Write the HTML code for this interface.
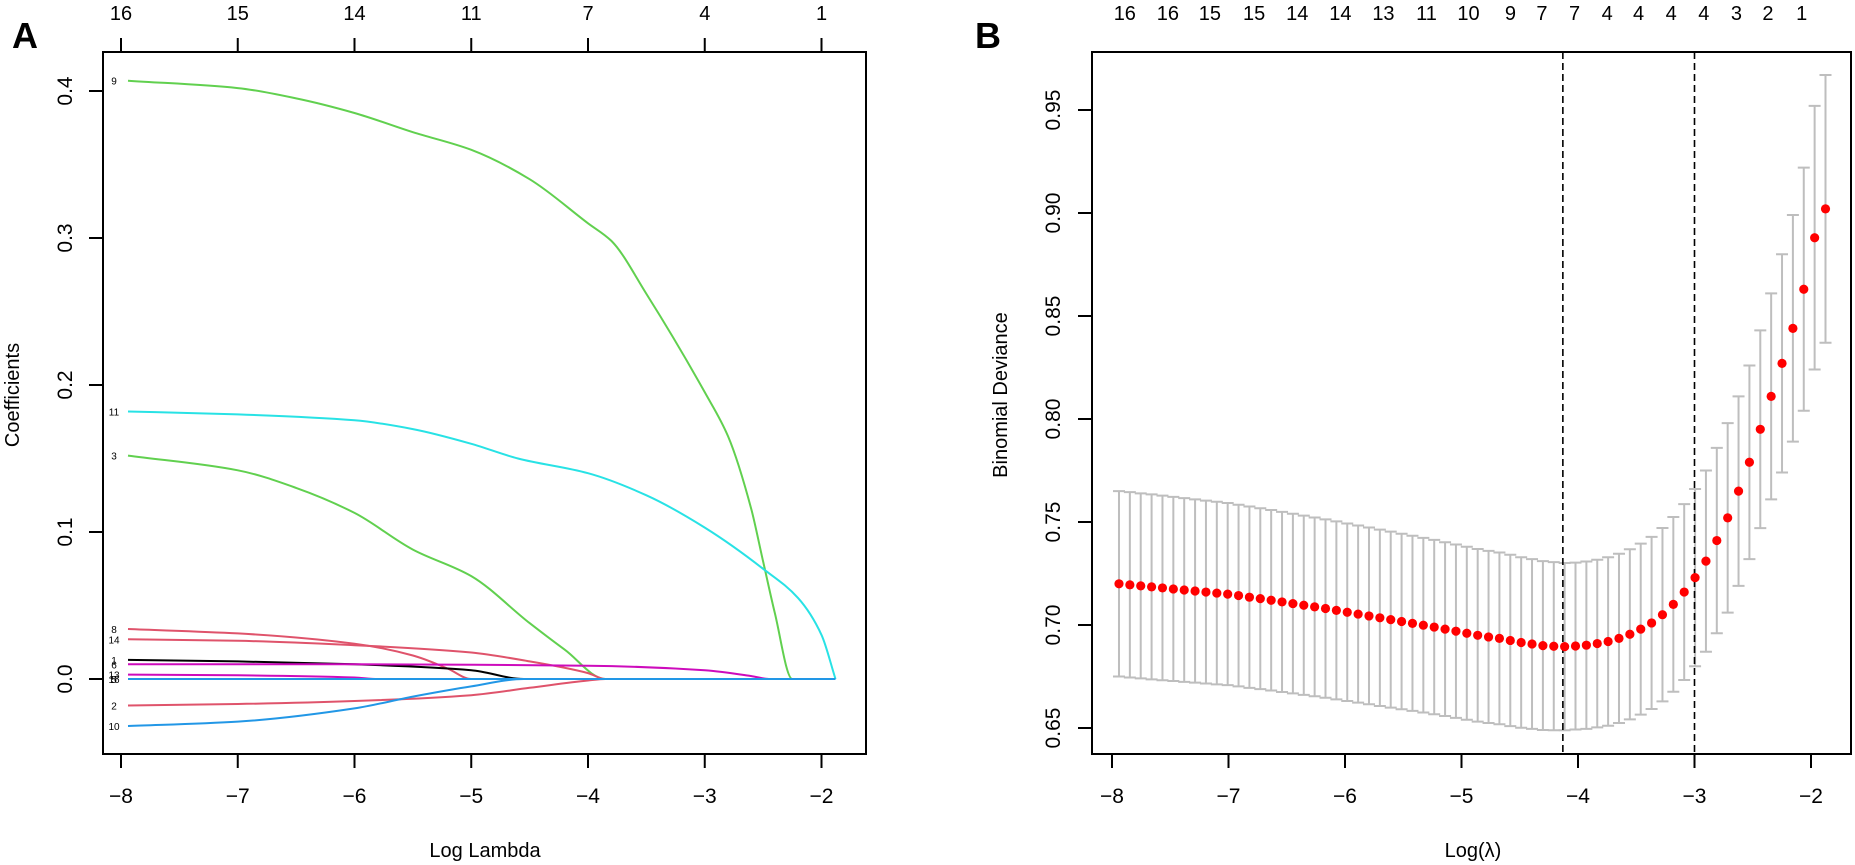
<!DOCTYPE html>
<html><head><meta charset="utf-8"><style>
html,body{margin:0;padding:0;background:#fff;}
svg{display:block;font-family:"Liberation Sans",sans-serif;}
</style></head><body>
<svg id="fig" width="1855" height="865" viewBox="0 0 1855 865" xmlns="http://www.w3.org/2000/svg">
<g id="pA"></g>
<g id="pB"></g>
</svg>
<script>
// ---------- Panel A data ----------
const aXTicks = [-8,-7,-6,-5,-4,-3,-2];
const aTopLabels = ["16","15","14","11","7","4","1"];
const aYTicks = [0.0,0.1,0.2,0.3,0.4];
const aYTickLabels = ["0.0","0.1","0.2","0.3","0.4"];
const path9  = [[-7.94,0.407],[-7,0.402],[-6.5,0.395],[-6,0.385],[-5.5,0.372],[-5,0.360],[-4.5,0.340],[-4,0.310],[-3.8,0.298],[-3.5,0.262],[-3,0.195],[-2.8,0.165],[-2.6,0.115],[-2.5,0.08],[-2.4,0.045],[-2.25,0],[-1.88,0]];
const path11 = [[-7.94,0.182],[-7,0.180],[-6,0.176],[-5.5,0.170],[-5,0.160],[-4.6,0.150],[-4,0.140],[-3.5,0.125],[-3,0.103],[-2.5,0.075],[-2.2,0.055],[-2,0.030],[-1.88,0]];
const path3  = [[-7.94,0.152],[-7,0.142],[-6.5,0.130],[-6,0.113],[-5.5,0.088],[-5,0.070],[-4.5,0.038],[-4.2,0.020],[-3.85,0],[-1.88,0]];
const path8  = [[-7.94,0.034],[-7,0.031],[-6,0.024],[-5.5,0.016],[-5.2,0.007],[-5,0],[-1.88,0]];
const path14 = [[-7.94,0.027],[-7,0.026],[-6,0.023],[-5,0.018],[-4.5,0.012],[-4,0.004],[-3.85,0],[-1.88,0]];
const path1  = [[-7.94,0.013],[-7,0.012],[-6,0.010],[-5,0.006],[-4.55,0],[-1.88,0]];
const path6  = [[-7.94,0.010],[-6,0.010],[-4,0.009],[-3,0.006],[-2.6,0.002],[-2.45,0],[-1.88,0]];
const path13 = [[-7.94,0.003],[-7,0.0025],[-6,0.001],[-5.8,0],[-1.88,0]];
const path2  = [[-7.94,-0.018],[-7,-0.017],[-6,-0.015],[-5,-0.011],[-4.5,-0.006],[-4,-0.001],[-3.85,0],[-1.88,0]];
const path10 = [[-7.94,-0.032],[-7,-0.029],[-6,-0.020],[-5.5,-0.012],[-5,-0.005],[-4.55,0],[-1.88,0]];
const pathZero = [[-7.94,0],[-1.88,0]];
const aSeries = [
 {lab:"9",col:"#61D04F",d:path9},{lab:"11",col:"#28E2E5",d:path11},{lab:"3",col:"#61D04F",d:path3},
 {lab:"8",col:"#DF536B",d:path8},{lab:"14",col:"#DF536B",d:path14},{lab:"1",col:"#000000",d:path1},
 {lab:"6",col:"#CD0BBC",d:path6},{lab:"13",col:"#CD0BBC",d:path13},{lab:"2",col:"#DF536B",d:path2},
 {lab:"10",col:"#2297E6",d:path10},{lab:"16",col:"#9E9E9E",d:pathZero},{lab:"5",col:"#2297E6",d:pathZero}
];

// ---------- Panel B data ----------
const bXTicks = [-8,-7,-6,-5,-4,-3,-2];
const bYTicks = [0.65,0.70,0.75,0.80,0.85,0.90,0.95];
const bYTickLabels = ["0.65","0.70","0.75","0.80","0.85","0.90","0.95"];
const bTopLabels = ["16","16","15","15","14","14","13","11","10","9","7","7","4","4","4","4","3","2","1"];
const bTopPos = [-7.89,-7.52,-7.16,-6.78,-6.41,-6.04,-5.67,-5.30,-4.94,-4.58,-4.31,-4.03,-3.75,-3.48,-3.20,-2.92,-2.64,-2.37,-2.08];
const lamStart = -7.94, lamStep = 0.0933;
const cvMean = [0.720,0.7195,0.719,0.7185,0.718,0.7175,0.717,0.7165,0.716,0.7155,0.715,0.7143,0.7135,0.7128,0.712,0.7112,0.7104,0.7096,0.7088,0.708,0.7071,0.7062,0.7053,0.7044,0.7035,0.7026,0.7017,0.7008,0.6999,0.699,0.698,0.697,0.696,0.695,0.6942,0.6935,0.6925,0.6915,0.6908,0.690,0.6897,0.6895,
 0.6898,0.6902,0.691,0.692,0.6935,0.6955,0.698,0.701,0.705,0.710,0.716,0.723,
 0.731,0.741,0.752,0.765,0.779,0.795,0.811,0.827,0.844,0.863,0.888,0.902];
const cvSE = [0.0450,0.0450,0.0449,0.0449,0.0448,0.0447,0.0446,0.0445,0.0444,0.0443,0.0442,0.0441,0.0440,0.0439,0.0438,0.0437,0.0436,0.0435,0.0434,0.0433,0.0432,0.0431,0.0430,0.0429,0.0428,0.0427,0.0426,0.0425,0.0424,0.0423,0.0422,0.0421,0.0420,0.0419,0.0418,0.0417,0.0416,0.0414,0.0412,0.0410,0.0408,0.0406,
 0.0405,0.0406,0.0407,0.0409,0.0411,0.0413,0.0415,0.0418,0.0421,0.0424,0.0427,0.0430,
 0.044,0.045,0.046,0.046,0.047,0.048,0.050,0.053,0.055,0.059,0.064,0.065];
const lambdaMin = -4.13, lambda1se = -3.0;

// ---------- helpers ----------
const NS="http://www.w3.org/2000/svg";
function mk(parent,tag,attrs,text){const e=document.createElementNS(NS,tag);for(const k in attrs)e.setAttribute(k,attrs[k]);if(text!==undefined)e.textContent=text;parent.appendChild(e);return e;}
// monotone cubic (Fritsch-Carlson) - no overshoot
function smoothPath(pts){
 const n=pts.length;
 if(n<3){return "M"+pts.map(p=>p[0].toFixed(1)+","+p[1].toFixed(1)).join(" L");}
 const dx=[],sl=[];
 for(let i=0;i<n-1;i++){dx.push(pts[i+1][0]-pts[i][0]);sl.push((pts[i+1][1]-pts[i][1])/dx[i]);}
 const m=[sl[0]];
 for(let i=1;i<n-1;i++){
  if(sl[i-1]*sl[i]<=0)m.push(0);
  else{const w1=2*dx[i]+dx[i-1],w2=dx[i]+2*dx[i-1];m.push((w1+w2)/(w1/sl[i-1]+w2/sl[i]));}
 }
 m.push(sl[n-2]);
 let d="M"+pts[0][0].toFixed(1)+","+pts[0][1].toFixed(1);
 for(let i=0;i<n-1;i++){
  const h=dx[i]/3;
  d+=" C"+(pts[i][0]+h).toFixed(1)+","+(pts[i][1]+m[i]*h).toFixed(1)+" "+(pts[i+1][0]-h).toFixed(1)+","+(pts[i+1][1]-m[i+1]*h).toFixed(1)+" "+pts[i+1][0].toFixed(1)+","+pts[i+1][1].toFixed(1);
 }
 return d;
}

// ---------- Panel A ----------
(function(){
 const g=document.getElementById('pA');
 const L=103,R=866,T=52,B=754;
 const ax=v=>121+(v+8)*116.75;
 const ay=v=>679-v*1470;
 const box=mk(g,'rect',{x:L,y:T,width:R-L,height:B-T,fill:'none',stroke:'#000','stroke-width':2});
 
 
 aXTicks.forEach((t,i)=>{
  const x=ax(t);
  const tk=mk(g,'line',{x1:x,y1:B,x2:x,y2:B+14,stroke:'#000','stroke-width':2});
  
  
  const lb=mk(g,'text',{x:x,y:803,'font-size':21,'text-anchor':'middle'},(t<0?"\u2212":"")+Math.abs(t));
  
  
  const tt=mk(g,'line',{x1:x,y1:T,x2:x,y2:T-14,stroke:'#000','stroke-width':2});
  
  
  const tl=mk(g,'text',{x:x,y:20,'font-size':20,'text-anchor':'middle'},aTopLabels[i]);
  
  
 });
 aYTicks.forEach((t,i)=>{
  const y=ay(t);
  const tk=mk(g,'line',{x1:L,y1:y,x2:L-14,y2:y,stroke:'#000','stroke-width':2});
  
  
  const lb=mk(g,'text',{x:72,y:y,'font-size':21,'text-anchor':'middle',transform:`rotate(-90 72 ${y})`},aYTickLabels[i]);
  
  
 });
 const xt=mk(g,'text',{x:485,y:857,'font-size':20,'text-anchor':'middle'},'Log Lambda');
 
 
 const yt=mk(g,'text',{x:19,y:395,'font-size':20,'text-anchor':'middle',transform:'rotate(-90 19 395)'},'Coefficients');
 
 
 const pl=mk(g,'text',{x:12,y:48,'font-size':36,'font-weight':'bold'},'A');
 
 
 aSeries.forEach(s=>{
  const pts=s.d.map(p=>[ax(p[0]),ay(p[1])]);
  const p=mk(g,'path',{d:smoothPath(pts),fill:'none',stroke:s.col,'stroke-width':2});
  
  
  const lb=mk(g,'text',{x:114,y:ay(s.d[0][1])+4,'font-size':10,'text-anchor':'middle'},s.lab);
  
  
 });
})();

// ---------- Panel B ----------
(function(){
 const g=document.getElementById('pB');
 const L=1092,R=1851,T=52,B=754;
 const bx=v=>1112+(v+8)*116.5;
 const by=v=>728-(v-0.65)*2060;
 const box=mk(g,'rect',{x:L,y:T,width:R-L,height:B-T,fill:'none',stroke:'#000','stroke-width':2});
 
 
 bXTicks.forEach(t=>{
  const x=bx(t);
  const tk=mk(g,'line',{x1:x,y1:B,x2:x,y2:B+14,stroke:'#000','stroke-width':2});
  
  
  const lb=mk(g,'text',{x:x,y:803,'font-size':21,'text-anchor':'middle'},(t<0?"\u2212":"")+Math.abs(t));
  
  
 });
 bYTicks.forEach((t,i)=>{
  const y=by(t);
  const tk=mk(g,'line',{x1:L,y1:y,x2:L-14,y2:y,stroke:'#000','stroke-width':2});
  
  
  const lb=mk(g,'text',{x:1060,y:y,'font-size':21,'text-anchor':'middle',transform:`rotate(-90 1060 ${y})`},bYTickLabels[i]);
  
  
 });
 bTopLabels.forEach((s,i)=>{
  const tl=mk(g,'text',{x:bx(bTopPos[i]),y:20,'font-size':20,'text-anchor':'middle'},s);
  
  
 });
 const xt=mk(g,'text',{x:1473,y:857,'font-size':20,'text-anchor':'middle'},'Log(\u03BB)');
 
 
 const yt=mk(g,'text',{x:1007,y:395,'font-size':20,'text-anchor':'middle',transform:'rotate(-90 1007 395)'},'Binomial Deviance');
 
 
 const pl=mk(g,'text',{x:975,y:48,'font-size':36,'font-weight':'bold'},'B');
 
 
 cvMean.forEach((m,i)=>{
  const x=bx(lamStart+i*lamStep), yu=by(m+cvSE[i]), yl=by(m-cvSE[i]);
  const e=mk(g,'path',{d:`M${x},${yu}V${yl}M${x-6},${yu}H${x+6}M${x-6},${yl}H${x+6}`,stroke:'#BEBEBE','stroke-width':2,fill:'none'});
  
  
 });
 [lambdaMin,lambda1se].forEach((v,i)=>{
  const x=bx(v);
  const l=mk(g,'line',{x1:x,y1:T,x2:x,y2:B,stroke:'#000','stroke-width':1.6,'stroke-dasharray':'7,4'});
  
  
 });
 cvMean.forEach((m,i)=>{
  const c=mk(g,'circle',{cx:bx(lamStart+i*lamStep),cy:by(m),r:4.6,fill:'#FF0000'});
  
  
 });
})();
</script>
</body></html>
